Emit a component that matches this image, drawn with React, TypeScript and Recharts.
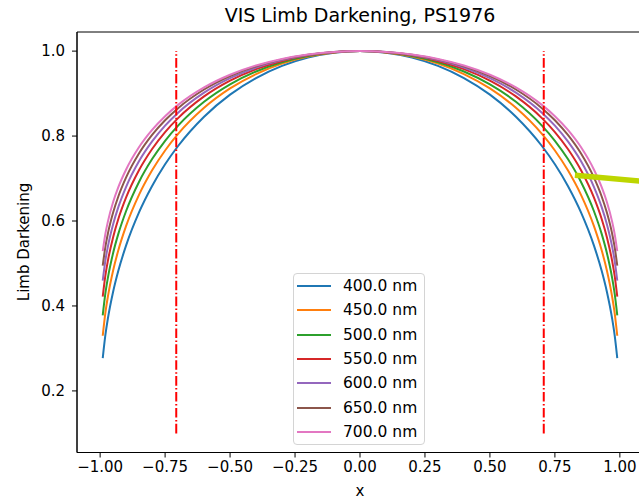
import React from 'react'
import {
  LineChart,
  Line,
  XAxis,
  YAxis,
  Legend,
  Label,
  ReferenceArea,
} from 'recharts'

// |x| positions sampled on one half of the disc (curves are symmetric)
const X_HALF = [0, 0.1, 0.2, 0.3, 0.4, 0.5, 0.6, 0.7, 0.75, 0.8, 0.85, 0.9, 0.93, 0.95, 0.97, 0.98, 0.99]

const LD_400 = [1.0, 0.9962, 0.9848, 0.9652, 0.9365, 0.8975, 0.8455, 0.7766, 0.7336, 0.6826, 0.6209, 0.5427, 0.4827, 0.4335, 0.371, 0.3306, 0.277]
const LD_450 = [1.0, 0.9968, 0.9871, 0.9705, 0.946, 0.9121, 0.8665, 0.8051, 0.7661, 0.7194, 0.6621, 0.5884, 0.5311, 0.4836, 0.4227, 0.3831, 0.3299]
const LD_500 = [1.0, 0.9972, 0.9886, 0.9739, 0.9521, 0.9217, 0.8806, 0.8246, 0.7889, 0.7458, 0.6926, 0.6236, 0.5697, 0.5247, 0.4668, 0.4289, 0.3779]
const LD_550 = [1.0, 0.9975, 0.99, 0.9769, 0.9575, 0.9304, 0.8933, 0.8423, 0.8094, 0.7696, 0.7201, 0.6555, 0.6047, 0.562, 0.5069, 0.4708, 0.422]
const LD_600 = [1.0, 0.9978, 0.9909, 0.979, 0.9612, 0.9363, 0.9021, 0.8549, 0.8244, 0.7873, 0.7411, 0.6805, 0.6327, 0.5925, 0.5404, 0.5062, 0.4599]
const LD_650 = [1.0, 0.9979, 0.9916, 0.9806, 0.9643, 0.9412, 0.9096, 0.8657, 0.8372, 0.8026, 0.7594, 0.7026, 0.6577, 0.6199, 0.5709, 0.5386, 0.495]
const LD_700 = [1.0, 0.998, 0.992, 0.9816, 0.9662, 0.9444, 0.9146, 0.8734, 0.8468, 0.8145, 0.7742, 0.7213, 0.6796, 0.6446, 0.5992, 0.5693, 0.529]

const WAVELENGTHS = [400, 450, 500, 550, 600, 650, 700]
const LD_VALUES = [LD_400, LD_450, LD_500, LD_550, LD_600, LD_650, LD_700]
const COLORS = ['#1f77b4', '#ff7f0e', '#2ca02c', '#d62728', '#9467bd', '#8c564b', '#e377c2']

// dash-dot markers at x = ±1/sqrt(2)
const MARK_X = 0.7071
const MARK_Y = [0.1, 1.0]

// thick yellow-green stroke on the right
const POINTER_X = [0.827, 1.08]
const POINTER_Y = [0.7075, 0.6938]

const X_TICKS = [-1, -0.75, -0.5, -0.25, 0, 0.25, 0.5, 0.75, 1]
const Y_TICKS = [0.2, 0.4, 0.6, 0.8, 1.0]
const X_DOMAIN: [number, number] = [-1.089, 1.089]
const Y_DOMAIN: [number, number] = [0.055, 1.045]

const FONT = 'DejaVu Sans'

const rowAt = (x: number, i: number) => {
  const row: Record<string, number> = { x }
  WAVELENGTHS.forEach((w, s) => {
    row[`ld${w}`] = LD_VALUES[s][i]
  })
  return row
}

const data = [
  ...X_HALF.map((x, i) => ({ x, i }))
    .slice(1)
    .reverse()
    .map(({ x, i }) => rowAt(-x, i)),
  ...X_HALF.map((x, i) => rowAt(x, i)),
]

const leftMark = MARK_Y.map(y => ({ x: -MARK_X, y }))
const rightMark = MARK_Y.map(y => ({ x: MARK_X, y }))
const pointer = POINTER_X.map((x, i) => ({ x, y: POINTER_Y[i] }))

const fmtX = (v: number) => (v < 0 ? '\u2212' : '') + Math.abs(v).toFixed(2)
const fmtY = (v: number) => v.toFixed(1)

const LegendBox = () => (
  <div
    style={{
      width: 132,
      height: 172,
      boxSizing: 'border-box',
      border: '1px solid #d4d4d4',
      borderRadius: 4,
      background: 'rgba(255,255,255,0.8)',
      fontFamily: FONT,
    }}
  >
    {WAVELENGTHS.map((w, i) => (
      <div key={w} style={{ height: 24.3, display: 'flex', alignItems: 'center' }}>
        <span
          style={{ display: 'inline-block', width: 34, height: 2, marginLeft: 3, background: COLORS[i] }}
        />
        <span style={{ marginLeft: 12, fontSize: 15.5, color: '#000', lineHeight: '16px' }}>
          {w.toFixed(1)} nm
        </span>
      </div>
    ))}
  </div>
)

export default function App() {
  const tickStyle = { fill: '#000', fontSize: 15, fontFamily: FONT }
  return (
    <div
      style={{
        position: 'absolute',
        left: 0,
        top: 0,
        width: 639,
        height: 499,
        overflow: 'hidden',
        background: '#fff',
        fontFamily: FONT,
      }}
    >
      <div
        style={{
          position: 'absolute',
          left: 0,
          top: 5,
          width: 720,
          textAlign: 'center',
          fontSize: 19,
          lineHeight: '21px',
          color: '#000',
        }}
      >
        VIS Limb Darkening, PS1976
      </div>
      <LineChart
        width={650}
        height={499}
        data={data}
        margin={{ top: 32, right: 7, bottom: 0, left: 0 }}
        style={{ fontFamily: FONT }}
      >
        <XAxis
          dataKey="x"
          type="number"
          domain={X_DOMAIN}
          allowDataOverflow
          ticks={X_TICKS}
          tickFormatter={fmtX}
          interval={0}
          height={46.5}
          tickSize={5}
          tickMargin={4}
          tick={tickStyle}
          axisLine={{ stroke: '#000' }}
          tickLine={{ stroke: '#000' }}
        >
          <Label value="x" position="insideBottom" offset={3} fill="#000" fontSize={15} fontFamily={FONT} />
        </XAxis>
        <YAxis
          type="number"
          domain={Y_DOMAIN}
          allowDataOverflow
          ticks={Y_TICKS}
          tickFormatter={fmtY}
          interval={0}
          width={77}
          tickSize={5}
          tickMargin={7}
          tick={tickStyle}
          axisLine={{ stroke: '#000' }}
          tickLine={{ stroke: '#000' }}
        >
          <Label
            content={() => (
              <text
                x={24}
                y={242}
                transform="rotate(-90, 24, 242)"
                textAnchor="middle"
                dominantBaseline="central"
                fontSize={15}
                fontFamily={FONT}
                fill="#000"
              >
                Limb Darkening
              </text>
            )}
          />
        </YAxis>
        <ReferenceArea
          x1={X_DOMAIN[0]}
          x2={X_DOMAIN[1]}
          y1={Y_DOMAIN[0]}
          y2={Y_DOMAIN[1]}
          fill="none"
          stroke="#000"
          strokeWidth={1}
          ifOverflow="visible"
        />
        {WAVELENGTHS.map((w, i) => (
          <Line
            key={w}
            type="monotone"
            dataKey={`ld${w}`}
            name={`${w.toFixed(1)} nm`}
            stroke={COLORS[i]}
            strokeWidth={2}
            dot={false}
            activeDot={false}
            isAnimationActive={false}
          />
        ))}
        <Line
          data={leftMark}
          dataKey="y"
          type="linear"
          stroke="#ff0000"
          strokeWidth={2}
          strokeDasharray="9.6 2.4 1.5 2.4"
          dot={false}
          activeDot={false}
          legendType="none"
          isAnimationActive={false}
        />
        <Line
          data={rightMark}
          dataKey="y"
          type="linear"
          stroke="#ff0000"
          strokeWidth={2}
          strokeDasharray="9.6 2.4 1.5 2.4"
          dot={false}
          activeDot={false}
          legendType="none"
          isAnimationActive={false}
        />
        <Line
          data={pointer}
          dataKey="y"
          type="linear"
          stroke="#bdd600"
          strokeWidth={5.5}
          dot={false}
          activeDot={false}
          legendType="none"
          isAnimationActive={false}
        />
        <Legend
          layout="vertical"
          align="center"
          verticalAlign="middle"
          wrapperStyle={{ left: 293, top: 273, width: 132 }}
          content={<LegendBox />}
        />
      </LineChart>
    </div>
  )
}
